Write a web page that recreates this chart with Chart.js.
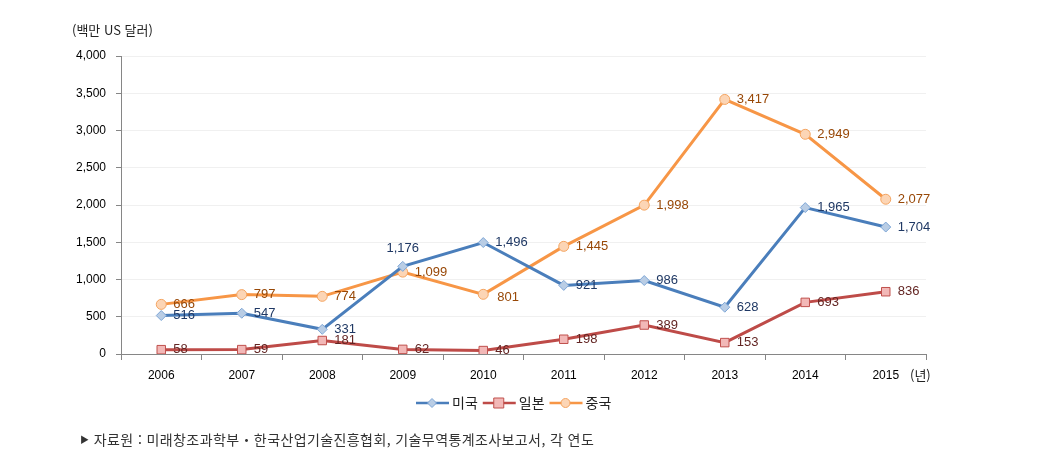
<!DOCTYPE html>
<html lang="ko">
<head>
<meta charset="utf-8">
<script src="https://cdn.jsdelivr.net/npm/chart.js@4.4.1/dist/chart.umd.min.js"></script>
<style>
  html, body { margin: 0; padding: 0; background: #fff; }
  #wrap { position: relative; width: 1053px; height: 475px; }
  .note { position: absolute; font-family: "Noto Sans CJK KR", "Noto Sans", sans-serif; font-size: 13px; color: #222; white-space: nowrap; }
</style>
</head>
<body>
<div id="wrap">
  <canvas id="chart" width="1053" height="475"></canvas>
  <div class="note" style="left:72px; top:20px;">(백만 US 달러)</div>
  <div class="note" style="left:910px; top:365px;">(년)</div>
  <div class="note" style="left:80px; top:429px; color:#333; font-size:14px; letter-spacing:0.4px;"><span style="font-size:9px; vertical-align:2px;">▶</span> 자료원 : 미래창조과학부‧한국산업기술진흥협회, 기술무역통계조사보고서, 각 연도</div>
</div>
<script>
const years = ['2006', '2007', '2008', '2009', '2010', '2011', '2012', '2013', '2014', '2015'];
const usValues = [516, 547, 331, 1176, 1496, 921, 986, 628, 1965, 1704];
const japanValues = [58, 59, 181, 62, 46, 198, 389, 153, 693, 836];
const chinaValues = [666, 797, 774, 1099, 801, 1445, 1998, 3417, 2949, 2077];
const seriesNames = ['미국', '일본', '중국'];

// label placement tweaks (dataset -> index -> [dx, dy, align])
const labelTweaks = {
  0: { 3: [0, -18, 'center'] },
  1: {},
  2: { 4: [14, 3, 'left'] },
};

const valueLabels = {
  id: 'valueLabels',
  afterDatasetsDraw(chart) {
    const ctx = chart.ctx;
    ctx.save();
    ctx.font = '13px "Liberation Sans", Arial, sans-serif';
    ctx.textBaseline = 'middle';
    chart.data.datasets.forEach((ds, di) => {
      const meta = chart.getDatasetMeta(di);
      meta.data.forEach((pt, i) => {
        const t = (labelTweaks[di] || {})[i] || [12, 0, 'left'];
        ctx.fillStyle = ds.labelColor;
        ctx.textAlign = t[2];
        ctx.fillText(ds.data[i].toLocaleString('en-US'), pt.x + t[0], pt.y + t[1]);
      });
    });
    ctx.restore();
  }
};

const bottomLegend = {
  id: 'bottomLegend',
  afterDraw(chart) {
    const ctx = chart.ctx;
    const y = 403;
    let x = 416;
    ctx.save();
    ctx.font = '14px "Noto Sans CJK KR", sans-serif';
    ctx.textBaseline = 'middle';
    ctx.textAlign = 'left';
    chart.data.datasets.forEach((ds) => {
      ctx.strokeStyle = ds.borderColor;
      ctx.lineWidth = 2.5;
      ctx.beginPath();
      ctx.moveTo(x, y);
      ctx.lineTo(x + 33, y);
      ctx.stroke();
      ctx.fillStyle = ds.pointBackgroundColor;
      ctx.strokeStyle = ds.pointBorderColor;
      ctx.lineWidth = 1;
      ctx.beginPath();
      if (ds.pointStyle === 'rect') {
        ctx.rect(x + 16 - 5, y - 5, 10, 10);
      } else if (ds.pointStyle === 'circle') {
        ctx.arc(x + 16, y, 4.5, 0, Math.PI * 2);
      } else {
        ctx.moveTo(x + 16, y - 4.5); ctx.lineTo(x + 20.5, y); ctx.lineTo(x + 16, y + 4.5); ctx.lineTo(x + 11.5, y); ctx.closePath();
      }
      ctx.fill();
      ctx.stroke();
      ctx.fillStyle = '#222';
      ctx.fillText(ds.label, x + 36, y);
      x += 36 + ctx.measureText(ds.label).width + 5;
    });
    ctx.restore();
  }
};

new Chart(document.getElementById('chart'), {
  type: 'line',
  data: {
    labels: years,
    datasets: [
      {
        label: seriesNames[0],
        data: usValues,
        borderColor: '#4a7ebb',
        borderWidth: 3,
        pointStyle: 'rectRot',
        pointRadius: 5,
        pointBackgroundColor: '#b9cde5',
        pointBorderColor: '#7ea6d6',
        pointBorderWidth: 1,
        labelColor: '#1f3864',
        tension: 0
      },
      {
        label: seriesNames[1],
        data: japanValues,
        borderColor: '#be4b48',
        borderWidth: 3,
        pointStyle: 'rect',
        pointRadius: 6,
        pointBackgroundColor: '#f2b8b7',
        pointBorderColor: '#c0504d',
        pointBorderWidth: 1,
        labelColor: '#632523',
        tension: 0
      },
      {
        label: seriesNames[2],
        data: chinaValues,
        borderColor: '#f79646',
        borderWidth: 3,
        pointStyle: 'circle',
        pointRadius: 5,
        pointBackgroundColor: '#fcd5b5',
        pointBorderColor: '#f4a460',
        pointBorderWidth: 1,
        labelColor: '#984807',
        tension: 0
      }
    ]
  },
  options: {
    responsive: false,
    animation: false,
    locale: 'en-US',
    layout: { padding: { left: 0, right: 127, top: 56, bottom: 91 } },
    plugins: {
      legend: { display: false },
      tooltip: { enabled: false }
    },
    scales: {
      x: {
        offset: true,
        grid: { offset: true, drawOnChartArea: false, drawTicks: true, tickLength: 6, tickColor: '#868686' },
        border: { color: '#868686', width: 1 },
        ticks: { color: '#000', font: { size: 12, family: '"Liberation Sans", Arial, sans-serif' }, padding: 8 },
        afterFit(scale) { scale.height = 30; }
      },
      y: {
        min: 0,
        max: 4000,
        grid: { color: '#f0f0f0', tickColor: '#868686', tickLength: 5 },
        border: { color: '#868686', width: 1 },
        ticks: { stepSize: 500, color: '#000', font: { size: 12, family: '"Liberation Sans", Arial, sans-serif' }, padding: 10 },
        afterFit(scale) { scale.width = 121; }
      }
    }
  },
  plugins: [valueLabels, bottomLegend]
});
</script>
</body>
</html>
